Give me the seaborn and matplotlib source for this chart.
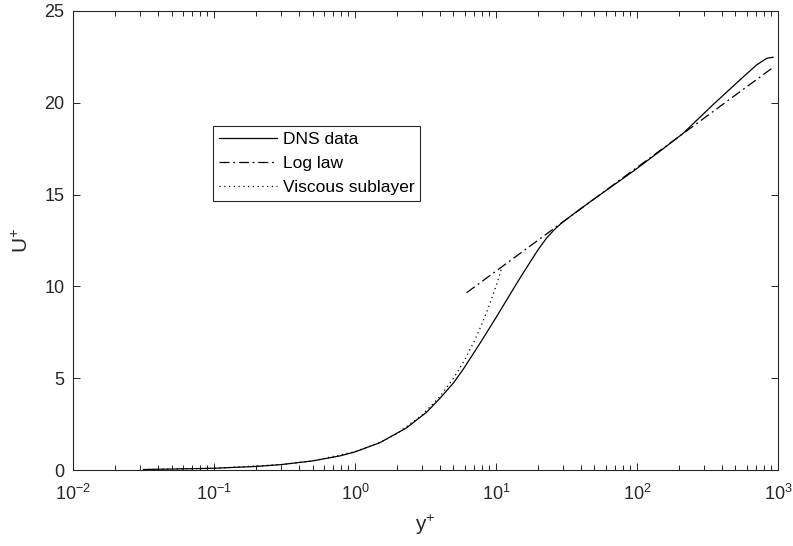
import matplotlib
matplotlib.use("Agg")
import matplotlib.pyplot as plt
import seaborn as sns
import pandas as pd
from matplotlib.ticker import LogLocator, NullFormatter

# DNS data
dns_yplus = [0.0316, 0.1, 0.2, 0.3, 0.5, 0.78, 1.0, 1.5, 2.32, 3.22, 4.0, 5.0, 5.87, 7.7,
             10.1, 12.9, 14.8, 17.4, 19.9, 22.9, 26.0, 29.2, 36.0, 46.4, 96.8, 153.7, 213,
             347, 537, 706, 832, 926]
dns_uplus = [0.0316, 0.1, 0.2, 0.3, 0.5, 0.77, 0.99, 1.49, 2.3, 3.15, 3.9, 4.75, 5.5, 6.9,
             8.35, 9.7, 10.45, 11.3, 12.0, 12.64, 13.1, 13.45, 13.98, 14.6, 16.34, 17.5,
             18.34, 19.9, 21.24, 22.06, 22.42, 22.48]

# Log law (straight line on semilog axes)
log_yplus = [6.2, 926]
log_uplus = [9.66, 21.93]

# Viscous sublayer
visc_yplus = [0.0316, 0.1, 0.3, 0.5, 1, 1.5, 2, 3, 4, 5, 6, 7, 8, 9, 10, 11]
visc_uplus = [0.0316, 0.1, 0.3, 0.5, 1, 1.5, 2, 3, 4, 5, 6, 7, 8, 9, 10, 11]

x_ticks = [1e-2, 1e-1, 1e0, 1e1, 1e2, 1e3]
x_ticklabels = ["$\\mathregular{10^{-2}}$", "$\\mathregular{10^{-1}}$", "$\\mathregular{10^{0}}$",
                "$\\mathregular{10^{1}}$", "$\\mathregular{10^{2}}$", "$\\mathregular{10^{3}}$"]
y_ticks = [0, 5, 10, 15, 20, 25]

sns.set_style("ticks")
plt.rcParams["font.family"] = ["Liberation Sans", "DejaVu Sans"]
plt.rcParams["mathtext.fontset"] = "custom"
plt.rcParams["mathtext.rm"] = "Liberation Sans"

fig = plt.figure(figsize=(7.93, 5.46), dpi=100)
ax = fig.add_axes([0.092, 0.139, 0.889, 0.841])

dark = "#262626"
df_dns = pd.DataFrame({"y": dns_yplus, "u": dns_uplus})
df_log = pd.DataFrame({"y": log_yplus, "u": log_uplus})
df_vis = pd.DataFrame({"y": visc_yplus, "u": visc_uplus})

sns.lineplot(data=df_dns, x="y", y="u", ax=ax, color="black", lw=0.9,
             label="DNS data", sort=False, estimator=None)
sns.lineplot(data=df_log, x="y", y="u", ax=ax, color="black", lw=0.9,
             label="Log law", sort=False, estimator=None)
ax.lines[-1].set_linestyle((0, (8, 3, 1.5, 3)))
sns.lineplot(data=df_vis, x="y", y="u", ax=ax, color="black", lw=0.9,
             label="Viscous sublayer", sort=False, estimator=None)
ax.lines[-1].set_linestyle((0, (1, 2.8)))

ax.set_xscale("log")
ax.set_xlim(1e-2, 1e3)
ax.set_ylim(0, 25)
ax.set_xticks(x_ticks)
ax.set_xticklabels(x_ticklabels)
ax.xaxis.set_minor_locator(LogLocator(base=10, subs=range(2, 10), numticks=20))
ax.xaxis.set_minor_formatter(NullFormatter())
ax.set_yticks(y_ticks)
ax.set_yticklabels([str(v) for v in y_ticks])

for s in ax.spines.values():
    s.set_visible(True)
    s.set_color(dark)
    s.set_linewidth(0.8)

ax.tick_params(axis="both", which="both", direction="in", top=True, right=True,
               color=dark, labelcolor=dark, labelsize=13, width=0.7)
ax.tick_params(axis="y", which="major", length=5, pad=6)
ax.tick_params(axis="x", which="major", length=5, pad=10)
ax.tick_params(axis="x", which="minor", length=3.5)

ax.set_xlabel("$\\mathregular{y^{+}}$", fontsize=15, color=dark, labelpad=6)
ax.set_ylabel("$\\mathregular{U^{+}}$", fontsize=15, color=dark, labelpad=9)

leg = ax.legend(loc="upper left", bbox_to_anchor=(0.199, 0.750), fontsize=12.5,
                frameon=True, fancybox=False, framealpha=1, edgecolor=dark,
                handlelength=3.3, handletextpad=0.35, borderpad=0.35, labelspacing=0.52,
                borderaxespad=0)
leg.get_frame().set_linewidth(0.8)
for t in leg.get_texts():
    t.set_color("black")

fig.savefig("out.png", dpi=100)
